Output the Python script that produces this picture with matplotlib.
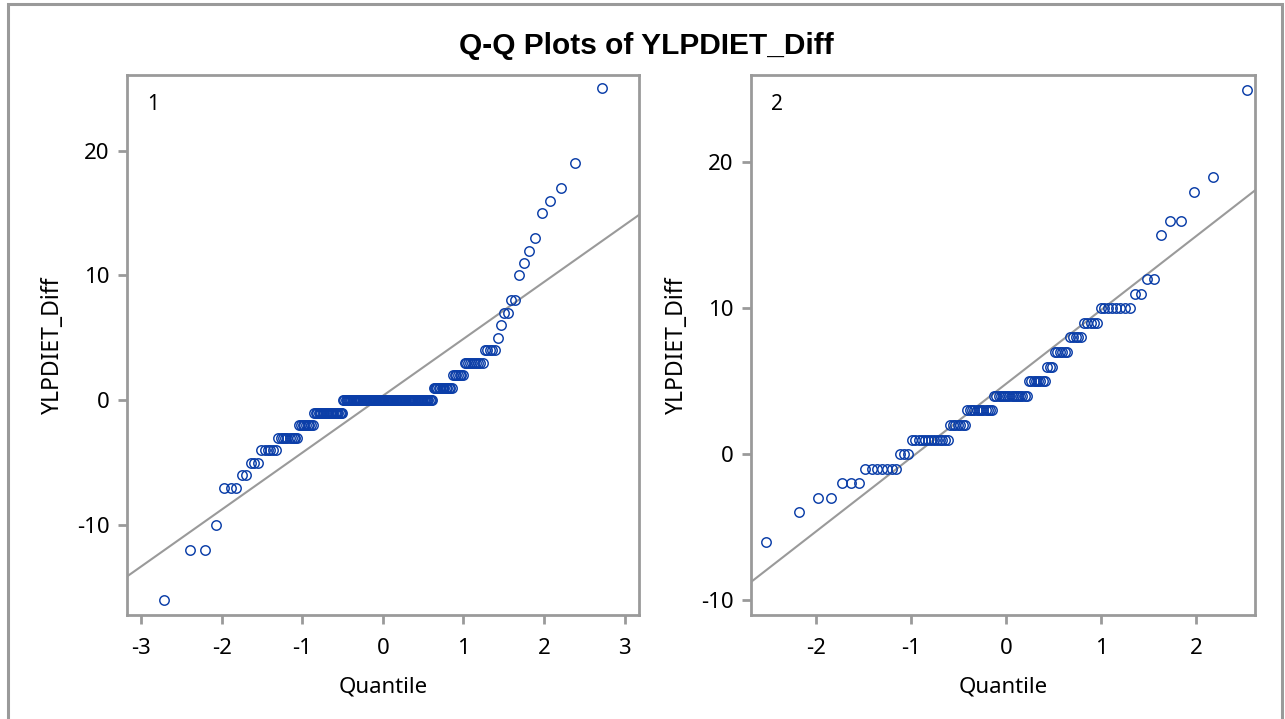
import numpy as np
import matplotlib.pyplot as plt
from matplotlib.patches import Rectangle
from statistics import NormalDist

# ------------------ Datos ------------------

# Grupo 1: valores distintos de YLPDIET_Diff y cuantas observaciones tiene cada uno
values_1 = [-16, -12, -10, -7, -6, -5, -4, -3, -2, -1, 0, 1, 2, 3, 4, 5, 6, 7, 8,
            10, 11, 12, 13, 15, 16, 17, 19, 25]
counts_1 = [1, 2, 1, 3, 2, 3, 6, 10, 9, 22, 81, 14, 7, 10, 5, 1, 1, 2, 2,
            1, 1, 1, 1, 1, 1, 1, 1, 1]

# Grupo 2
values_2 = [-6, -4, -3, -2, -1, 0, 1, 2, 3, 4, 5, 6, 7, 8, 9, 10, 11, 12, 15, 16, 18, 19, 25]
counts_2 = [1, 1, 2, 3, 7, 3, 13, 7, 12, 16, 8, 3, 6, 5, 5, 8, 2, 2, 1, 2, 1, 1, 1]

# Recta de referencia normal (mu, sigma)
ref_1 = (0.36, 4.56)
ref_2 = (4.83, 5.06)

panel_labels = ["1", "2"]
x_ticks_1 = [-3, -2, -1, 0, 1, 2, 3]
x_ticks_2 = [-2, -1, 0, 1, 2]
y_ticks_1 = [-10, 0, 10, 20]
y_ticks_2 = [-10, 0, 10, 20]

plt.rcParams['font.family'] = ['Noto Sans', 'DejaVu Sans']
plt.rcParams['axes.unicode_minus'] = False

MARKER_COLOR = '#0b3ea8'
GRAY = '#9a9a9a'


# Funcion para calcular los cuantiles normales (Blom) de una muestra ordenada
def normal_quantiles(n):
    nd = NormalDist()
    return np.array([nd.inv_cdf((i - 0.375) / (n + 0.25)) for i in range(1, n + 1)])


# Funcion para dibujar un panel Q-Q
def draw_panel(ax, values, counts, ref, label, xlim, ylim, xticks, yticks):
    y = np.repeat(values, counts)
    x = normal_quantiles(len(y))
    mu, sigma = ref
    xs = np.array(xlim)
    ax.plot(xs, mu + sigma * xs, color=GRAY, lw=1.5, zorder=1)
    ax.plot(x, y, 'o', mfc='none', mec=MARKER_COLOR, mew=1.05, ms=6.8, zorder=2)
    ax.set_xlim(xlim)
    ax.set_ylim(ylim)
    ax.set_xticks(xticks)
    ax.set_yticks(yticks)
    for s in ax.spines.values():
        s.set_color(GRAY)
        s.set_linewidth(2)
    ax.tick_params(axis='both', colors=GRAY, labelcolor='black', width=2,
                   length=6.5, labelsize=16, pad=6)
    ax.tick_params(axis='x', pad=10)
    ax.set_xlabel('Quantile', fontsize=16, labelpad=13)
    ax.set_ylabel('YLPDIET_Diff', fontsize=16.5, labelpad=9)
    ax.text(0.04, 0.965, label, transform=ax.transAxes, fontsize=15,
            va='top', ha='left')


def main():
    fig = plt.figure(figsize=(12.85, 7.19), dpi=100)

    # marco exterior gris
    W, H = 1285, 719
    fig.patches.append(Rectangle((8 / W, -0.05), (1282 - 8) / W, 1.05 - 4 / H,
                                 transform=fig.transFigure, fill=False,
                                 edgecolor=GRAY, lw=2.2))

    ax1 = fig.add_axes([127 / W, 1 - 615 / H, (639 - 127) / W, (615 - 75) / H])
    ax2 = fig.add_axes([751 / W, 1 - 615 / H, (1255 - 751) / W, (615 - 75) / H])

    draw_panel(ax1, values_1, counts_1, ref_1, panel_labels[0],
               (-3.174, 3.178), (-17.2, 26.06), x_ticks_1, y_ticks_1)
    draw_panel(ax2, values_2, counts_2, ref_2, panel_labels[1],
               (-2.687, 2.62), (-11.03, 26.0), x_ticks_2, y_ticks_2)

    fig.text(646 / W, 1 - 46 / H, 'Q-Q Plots of YLPDIET_Diff', fontsize=21.5,
             fontweight='bold', family=['Liberation Sans', 'DejaVu Sans'],
             ha='center', va='center')

    fig.savefig('out.png', dpi=100)


if __name__ == "__main__":
    main()
